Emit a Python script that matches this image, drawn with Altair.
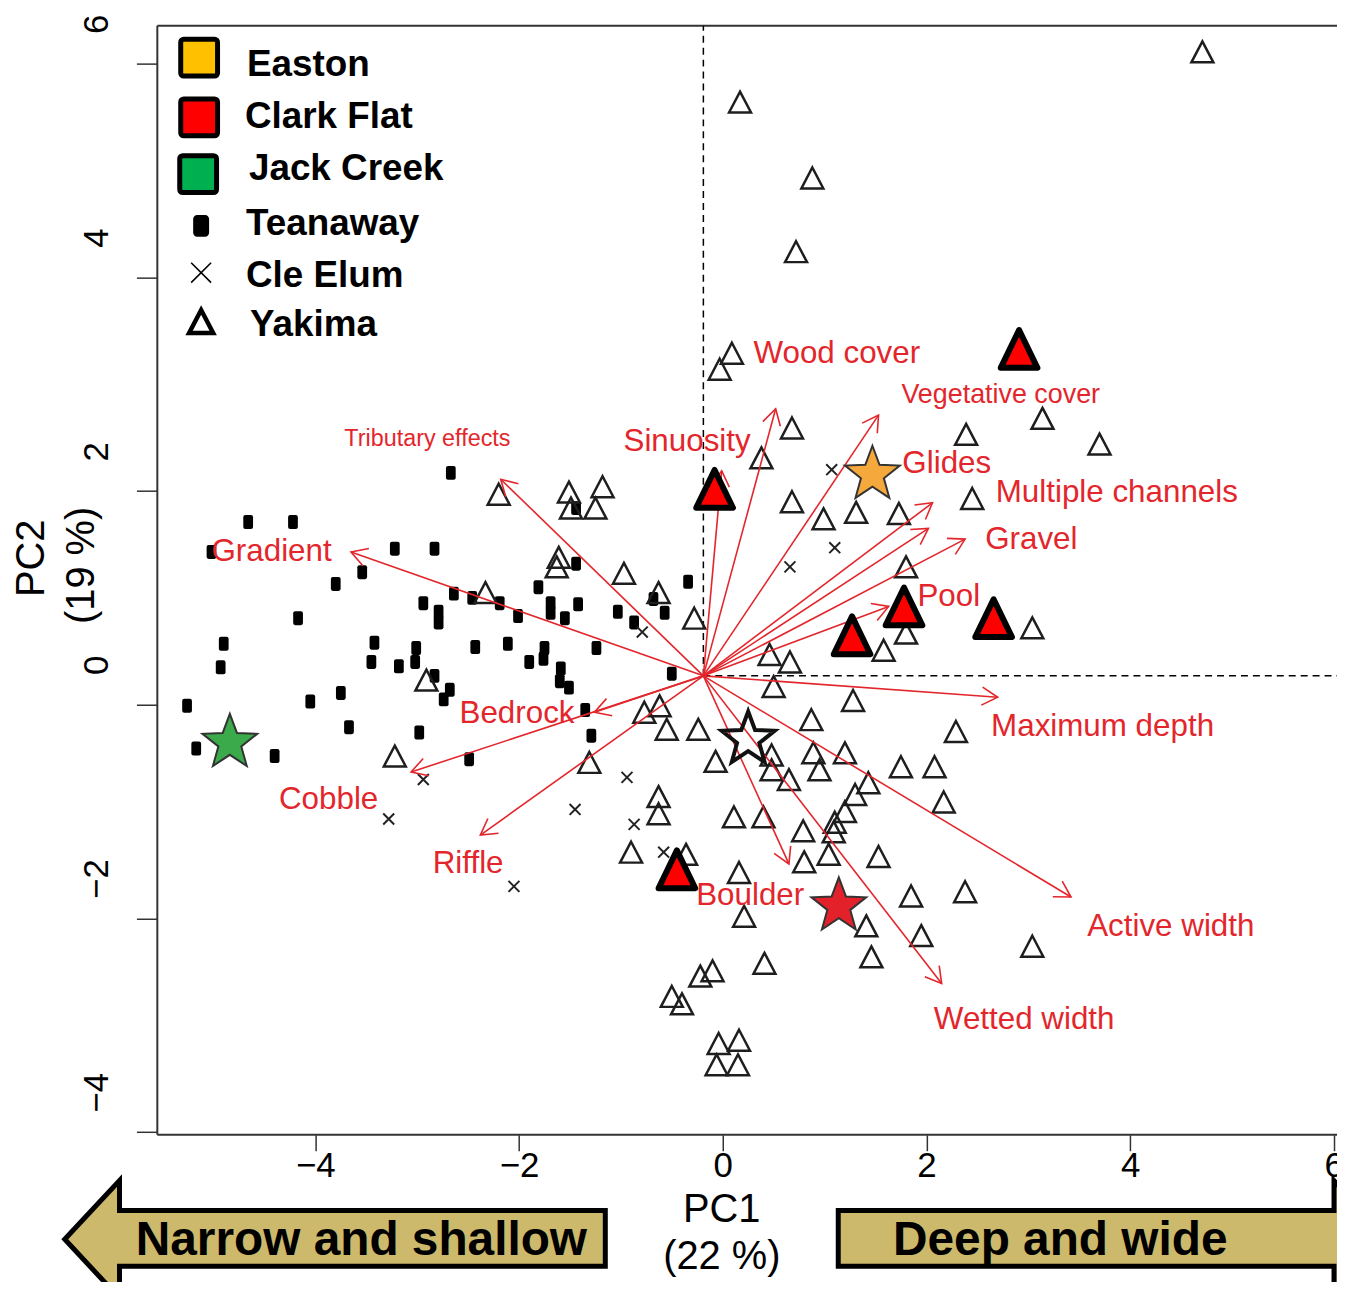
import math
import altair as alt
import pandas as pd

# ---------------- data (PC1, PC2 units) ----------------
tea_x = [-2.67, -4.66, -4.22, -5.02, -3.22, -2.83, -3.54, -3.80, -2.64, -2.94, -2.79, -2.79,
         -4.17, -4.90, -3.42, -3.01, -4.93, -3.45, -3.18, -3.02, -2.83, -2.68, -2.74, -5.26,
         -4.05, -3.75, -3.67, -2.98, -5.17, -4.40, -1.44, -1.44, -1.81, -2.46, -2.19, -2.01,
         -1.69, -1.69, -1.55, -1.42, -1.03, -0.87, -0.57, -0.68, -0.34, -2.43, -2.11, -1.75,
         -1.76, -1.90, -1.24, -1.59, -1.60, -1.51, -0.50, -1.35, -1.29, -2.49]
tea_y = [2.17, 1.71, 1.71, 1.43, 1.46, 1.46, 1.24, 1.13, 1.04, 0.95, 0.87, 0.77,
         0.81, 0.57, 0.58, 0.53, 0.35, 0.40, 0.36, 0.40, 0.27, 0.14, 0.05, -0.01,
         0.03, 0.11, -0.21, -0.26, -0.41, -0.48, 1.84, 1.32, 1.10, 1.00, 0.95, 0.83,
         0.95, 0.86, 0.81, 0.94, 0.87, 0.77, 0.86, 0.99, 1.15, 0.54, 0.57, 0.53,
         0.43, 0.40, 0.53, 0.34, 0.22, 0.16, 0.29, -0.05, -0.29, -0.51]

cle_x = [1.07, 1.10, 0.66, -0.79, -0.94, -1.45, -0.87, -0.58, -2.94, -3.28, -2.05]
cle_y = [2.20, 1.47, 1.29, 0.68, -0.68, -0.98, -1.12, -1.38, -0.70, -1.07, -1.70]

yak_x = [4.71, 0.17, 0.88, 0.72, 0.09, -0.03, 0.68, 0.38, 2.39, 3.14, 3.70, 2.45,
         0.68, 0.99, 1.31, 1.73, 1.80, 1.80, 1.58, 3.04, 0.66, 0.46, 0.50, 1.28,
         -0.28, -0.63, -0.97, -1.61, -1.63, -2.20, -1.51, -1.18, -1.49, -1.25, -2.33, -2.91,
         -3.22, -0.77, -0.62, -0.55, -0.24, -1.31, -0.63, -0.63, -0.90, -0.36, -0.07, 0.87,
         0.48, 0.48, 0.65, 0.89, 0.95, 1.20, 1.43, 1.30, 1.20, 1.10, 1.09, 0.11,
         0.40, 0.79, 1.04, 0.80, 1.53, 1.75, 2.08, 2.17, 2.29, 0.16, 0.21, 1.41,
         1.46, 0.41, -0.10, -0.22, -0.50, -0.40, -0.04, 0.16, -0.06, 0.15, 1.85, 2.38,
         1.95, 3.04]
yak_y = [6.11, 5.64, 4.93, 4.24, 3.29, 3.14, 2.59, 2.31, 2.53, 2.68, 2.44, 1.93,
         1.90, 1.74, 1.80, 1.79, 1.29, 0.67, 0.51, 0.72, 0.40, 0.47, 0.17, 0.04,
         0.81, 1.05, 1.23, 1.38, 1.29, 1.97, 1.99, 2.04, 1.84, 1.84, 1.05, 0.23,
         -0.48, -0.07, -0.01, -0.23, -0.23, -0.54, -0.86, -1.02, -1.38, -1.40, -0.53, -0.14,
         -0.47, -0.61, -0.70, -0.45, -0.61, -0.45, -0.73, -0.84, -1.00, -1.10, -1.19, -1.05,
         -1.05, -1.18, -1.40, -1.47, -1.42, -0.58, -0.58, -0.91, -0.25, -1.57, -1.98, -2.07,
         -2.36, -2.42, -2.49, -2.54, -2.73, -2.80, -3.17, -3.14, -3.37, -3.37, -1.79, -1.75,
         -2.16, -2.26]

clark_x = [2.91, -0.08, 1.78, 2.66, 1.27, -0.45]
clark_y = [3.33, 2.02, 0.92, 0.81, 0.65, -1.54]

star_site = ["Easton", "Jack Creek", "Clark Flat"]
star_x = [1.47, -4.84, 1.14]
star_y = [2.18, -0.33, -1.86]
open_star_x = [0.25]
open_star_y = [-0.30]

origin_x, origin_y = -0.19, 0.27
var_names = ["Tributary effects", "Gradient", "Bedrock", "Cobble", "Riffle", "Boulder",
             "Wetted width", "Active width", "Maximum depth", "Pool", "Gravel",
             "Multiple channels", "Glides", "Vegetative cover", "Wood cover", "Sinuosity"]
var_x = [-2.18, -3.65, -1.26, -3.06, -2.38, 0.65, 2.15, 3.42, 2.70, 1.63, 2.38, 2.02, 2.06, 1.53, 0.52, -0.01]
var_y = [2.11, 1.43, -0.07, -0.63, -1.22, -1.49, -2.61, -1.80, 0.07, 0.92, 1.55, 1.65, 1.89, 2.71, 2.77, 2.19]
lab_x = [-2.90, -4.43, -2.02, -3.87, -2.50, 0.27, 2.96, 4.40, 3.73, 2.22, 3.03, 3.87, 2.20, 2.73, 1.12, -0.35]
lab_y = [2.49, 1.43, -0.09, -0.89, -1.49, -1.79, -2.95, -2.08, -0.21, 1.01, 1.54, 1.98, 2.25, 2.90, 3.28, 2.46]

legend_labels = ["Easton", "Clark Flat", "Jack Creek", "Teanaway", "Cle Elum", "Yakima"]
legend_colors = ["#FFC000", "#FF0000", "#00B050"]
tick_values = [-4, -2, 0, 2, 4, 6]

# ---------------- layout ----------------
W, H = 1185, 1114
X_DOMAIN = [-5.552, 6.032]
Y_DOMAIN = [-4.025, 6.354]
PX_X = W / (X_DOMAIN[1] - X_DOMAIN[0])
PX_Y = H / (Y_DOMAIN[1] - Y_DOMAIN[0])
RED = "#E3262C"
FONT = "Liberation Sans, Arial, sans-serif"

xscale = alt.Scale(domain=X_DOMAIN, nice=False, zero=False)
yscale = alt.Scale(domain=Y_DOMAIN, nice=False, zero=False)
xaxis = alt.Axis(values=tick_values, title=None, grid=False, domain=False, tickSize=16,
                 tickWidth=1.5, tickColor="#333", labelFont=FONT, labelFontSize=35,
                 labelColor="black", labelBaseline="alphabetic", labelPadding=26,
                 labelFlush=False, labelOverlap=False)
yaxis = alt.Axis(values=tick_values, title=None, grid=False, domain=False, tickSize=21,
                 tickWidth=1.5, tickColor="#333", labelFont=FONT, labelFontSize=35,
                 labelColor="black", labelAngle=270, labelAlign="center",
                 labelBaseline="alphabetic", labelPadding=29, labelOffset=-40,
                 labelFlush=False, labelOverlap=False)


def X(f):
    return alt.X(f"{f}:Q", scale=xscale, axis=xaxis)


def Y(f):
    return alt.Y(f"{f}:Q", scale=yscale, axis=yaxis)


def star_path(inner=0.42):
    pts = []
    for k in range(10):
        r = 1.0 if k % 2 == 0 else inner
        a = math.radians(-90 + 36 * k)
        pts.append((r * math.cos(a), r * math.sin(a)))
    ys = [p[1] for p in pts]
    cy = (max(ys) + min(ys)) / 2
    return "M" + "L".join(f"{x:.3f},{y - cy:.3f}" for x, y in pts) + "Z"


STAR = star_path()
TRI = "M0,-1L1.05,1L-1.05,1Z"
BIGTRI = "M0,-1L0.97,1L-0.97,1Z"
CROSS = "M-1,-1L1,1M1,-1L-1,1"
RRECT = ("M-0.4,-1L0.4,-1Q0.7,-1 0.7,-0.7L0.7,0.7Q0.7,1 0.4,1L-0.4,1"
         "Q-0.7,1 -0.7,0.7L-0.7,-0.7Q-0.7,-1 -0.4,-1Z")
VHEAD = "M-1,-0.577L0,0L-1,0.577"

one = pd.DataFrame({"a": [0]})

# ---------------- data frames ----------------
tea = pd.DataFrame({"x": tea_x, "y": tea_y})
cle = pd.DataFrame({"x": cle_x, "y": cle_y})
yak = pd.DataFrame({"x": yak_x, "y": yak_y})
clark = pd.DataFrame({"x": clark_x, "y": clark_y})
stars = pd.DataFrame({"x": star_x, "y": star_y, "site": star_site})
ostar = pd.DataFrame({"x": open_star_x, "y": open_star_y})
angles = [math.degrees(math.atan2(-(vy - origin_y) * PX_Y, (vx - origin_x) * PX_X)) % 360
          for vx, vy in zip(var_x, var_y)]
arrows = pd.DataFrame({"name": var_names, "x0": origin_x, "y0": origin_y,
                       "x": var_x, "y": var_y, "angle": angles})
narrow_set = {"Tributary effects", "Vegetative cover"}
labels = pd.DataFrame({"name": var_names, "x": lab_x, "y": lab_y})
lab_norm = labels[~labels["name"].isin(narrow_set)]
lab_trib = labels[labels["name"] == "Tributary effects"]
lab_veg = labels[labels["name"] == "Vegetative cover"]
dash_v = pd.DataFrame({"x": [origin_x], "y": [origin_y], "y2": [Y_DOMAIN[1]]})
dash_h = pd.DataFrame({"x": [origin_x], "x2": [X_DOMAIN[1]], "y": [origin_y]})

layers = []

# frame (top, left, bottom)
frame_kw = dict(color="#333", strokeWidth=2)
layers.append(alt.Chart(one).mark_rule(**frame_kw).encode(x=alt.value(0), x2=alt.value(W + 30), y=alt.value(0)))
layers.append(alt.Chart(one).mark_rule(**frame_kw).encode(x=alt.value(0), y=alt.value(0), y2=alt.value(H)))
layers.append(alt.Chart(one).mark_rule(**frame_kw).encode(x=alt.value(0), x2=alt.value(W + 30), y=alt.value(H)))

# dashed reference lines
layers.append(alt.Chart(dash_v).mark_rule(color="black", strokeWidth=1.5, strokeDash=[7, 5]).encode(
    x=X("x"), y=Y("y"), y2="y2:Q"))
layers.append(alt.Chart(dash_h).mark_rule(color="black", strokeWidth=1.5, strokeDash=[7, 5]).encode(
    x=X("x"), x2="x2:Q", y=Y("y")))

# site points
layers.append(alt.Chart(tea).mark_point(shape=RRECT, size=196, filled=True, color="black",
                                        opacity=1).encode(x=X("x"), y=Y("y")))
layers.append(alt.Chart(yak).mark_point(shape=TRI, size=441, filled=False, color="#1e1e1e",
                                        strokeWidth=2.5, opacity=1).encode(x=X("x"), y=Y("y")))
layers.append(alt.Chart(cle).mark_point(shape=CROSS, size=121, filled=False, color="#222",
                                        strokeWidth=2, opacity=1).encode(x=X("x"), y=Y("y")))

# loading arrows
layers.append(alt.Chart(arrows).mark_rule(color=RED, strokeWidth=1.6).encode(
    x=X("x0"), y=Y("y0"), x2="x:Q", y2="y:Q"))
layers.append(alt.Chart(arrows).mark_point(shape=VHEAD, size=1000, filled=False, color=RED,
                                           strokeWidth=1.6, opacity=1).encode(
    x=X("x"), y=Y("y"), angle=alt.Angle("angle:Q", scale=None)))

# loading labels
layers.append(alt.Chart(lab_norm).mark_text(font=FONT, fontSize=31.5, color=RED, align="center",
                                            baseline="middle").encode(x=X("x"), y=Y("y"), text="name:N"))
layers.append(alt.Chart(lab_trib).mark_text(font=FONT, fontSize=23.5, color=RED, align="center",
                                            baseline="middle").encode(x=X("x"), y=Y("y"), text="name:N"))
layers.append(alt.Chart(lab_veg).mark_text(font=FONT, fontSize=27, color=RED, align="center",
                                           baseline="middle").encode(x=X("x"), y=Y("y"), text="name:N"))

# highlighted sites
layers.append(alt.Chart(ostar).mark_point(shape=STAR, size=3136, filled=False, color="#111",
                                          strokeWidth=4, opacity=1).encode(x=X("x"), y=Y("y")))
layers.append(alt.Chart(clark).mark_point(shape=BIGTRI, size=1444, filled=True, fill="#FF0000",
                                          stroke="black", strokeWidth=6, strokeJoin="round",
                                          opacity=1).encode(x=X("x"), y=Y("y")))
layers.append(alt.Chart(stars).mark_point(shape=STAR, size=3341, filled=True, stroke="#333",
                                          strokeWidth=2, opacity=1).encode(
    x=X("x"), y=Y("y"),
    fill=alt.Fill("site:N", scale=alt.Scale(domain=star_site, range=["#F5A93C", "#3BAA4A", "#E3212B"]),
                  legend=None)))

# ---------------- hand-drawn legend ----------------
sq_centers = [(42, 32), (42, 92), (41, 149)]
for (cx, cy), col in zip(sq_centers, legend_colors):
    layers.append(alt.Chart(one).mark_rect(fill=col, stroke="black", strokeWidth=5, cornerRadius=3).encode(
        x=alt.value(cx - 18.5), x2=alt.value(cx + 18.5), y=alt.value(cy - 18.5), y2=alt.value(cy + 18.5)))
layers.append(alt.Chart(one).mark_rect(fill="black", cornerRadius=4).encode(
    x=alt.value(36), x2=alt.value(52), y=alt.value(190), y2=alt.value(212)))
layers.append(alt.Chart(one).mark_point(shape=CROSS, size=400, filled=False, color="black",
                                        strokeWidth=1.6, opacity=1).encode(x=alt.value(44), y=alt.value(248)))
layers.append(alt.Chart(one).mark_point(shape=TRI, size=530, filled=False, color="black",
                                        strokeWidth=4.5, opacity=1).encode(x=alt.value(44), y=alt.value(297)))
text_pos = [(90, 50), (88, 103), (92, 155), (89, 210), (89, 262), (93, 312)]
for (tx, ty), lab in zip(text_pos, legend_labels):
    layers.append(alt.Chart(one).mark_text(font=FONT, fontSize=37, fontWeight="bold", color="black",
                                           align="left", baseline="alphabetic").encode(
        x=alt.value(tx), y=alt.value(ty), text=alt.value(lab)))

# ---------------- axis titles and direction arrows ----------------
title_kw = dict(font=FONT, fontSize=40, color="black", align="center", baseline="middle")
layers.append(alt.Chart(one).mark_text(**title_kw).encode(x=alt.value(567), y=alt.value(1190), text=alt.value("PC1")))
layers.append(alt.Chart(one).mark_text(**title_kw).encode(x=alt.value(567), y=alt.value(1237), text=alt.value("(22 %)")))
layers.append(alt.Chart(one).mark_text(angle=270, **title_kw).encode(x=alt.value(-126), y=alt.value(535), text=alt.value("PC2")))
layers.append(alt.Chart(one).mark_text(angle=270, **title_kw).encode(x=alt.value(-76), y=alt.value(542), text=alt.value("(19 %)")))

LEFT_ARROW = "M0,0L55,-59L55,-29L543,-29L543,27L55,27L55,59Z"
RIGHT_ARROW = "M-498,-29L0,-29L0,-59L55,0L0,59L0,27L-498,27Z"
arrow_kw = dict(size=4, filled=True, fill="#CDB96B", stroke="black", strokeWidth=5,
                strokeJoin="miter", opacity=1)
layers.append(alt.Chart(one).mark_point(shape=LEFT_ARROW, **arrow_kw).encode(x=alt.value(-93), y=alt.value(1219)))
layers.append(alt.Chart(one).mark_point(shape=RIGHT_ARROW, **arrow_kw).encode(x=alt.value(1182), y=alt.value(1219)))
box_kw = dict(font=FONT, fontSize=48, fontWeight="bold", color="black", align="center", baseline="middle")
layers.append(alt.Chart(one).mark_text(**box_kw).encode(x=alt.value(205), y=alt.value(1221), text=alt.value("Narrow and shallow")))
layers.append(alt.Chart(one).mark_text(**box_kw).encode(x=alt.value(907), y=alt.value(1221), text=alt.value("Deep and wide")))

chart = alt.layer(*layers).properties(
    width=W, height=H,
    padding={"left": 150, "top": 15, "right": 0, "bottom": 145},
    autosize=alt.AutoSizeParams(type="none"),
).configure_view(strokeWidth=0)

chart.save("out.html", embed_options={"renderer": "svg", "actions": False})
